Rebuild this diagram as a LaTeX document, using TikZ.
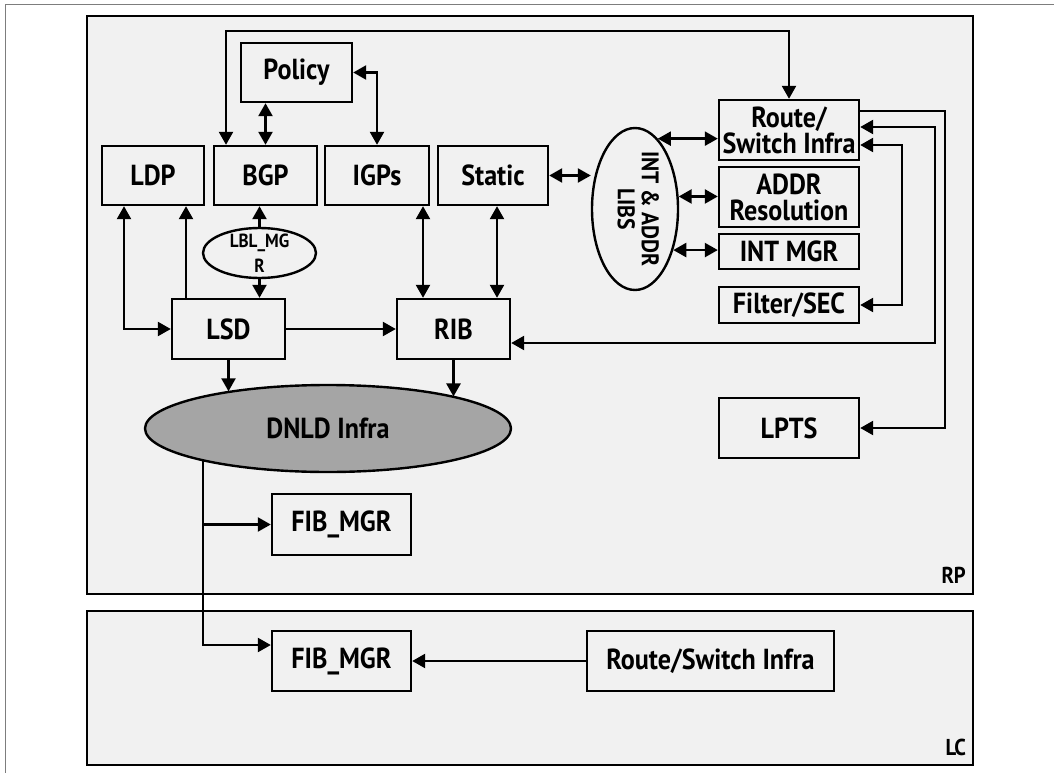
\documentclass[tikz,border=0pt]{standalone}
\usepackage{fontspec}
\setmainfont{PT Sans}[FakeStretch=0.9]
\usepackage{graphicx}
\usetikzlibrary{arrows.meta,shapes.geometric}
\definecolor{bgc}{RGB}{241,241,241}
\definecolor{dnldc}{RGB}{165,165,165}
\definecolor{framec}{RGB}{125,125,125}
\newcommand\mf{\fontsize{29}{26}\selectfont\bfseries}
\newcommand\lmf{\fontsize{24}{23}\selectfont\bfseries}
\newcommand\smf{\fontsize{19}{25}\selectfont\bfseries}
\begin{document}
\begin{tikzpicture}[x=1pt,y=-1pt,
  panel/.style={draw, line width=2.8pt, fill=bgc, inner sep=0pt},
  box/.style={draw, line width=2.4pt, fill=bgc, inner sep=0pt, align=center, font=\mf},
  ell/.style={draw, ellipse, line width=2.4pt, fill=bgc, align=center, font=\mf},
  ar/.style={-{Triangle[length=13pt,width=14pt]}, line width=2.4pt},
  dar/.style={{Triangle[length=13pt,width=14pt]}-{Triangle[length=13pt,width=14pt]}, line width=2.4pt},
  lab/.style={font=\fontsize{23}{23}\selectfont\bfseries, inner sep=0pt, anchor=base east}]
\useasboundingbox (0,0) rectangle (1054,773);
\fill[white] (0,0) rectangle (1054,773);
\draw[framec, line width=1.3pt] (5.5,773) -- (5.5,4.5) -- (1054,4.5);
% panels
\node[panel, minimum width=886pt, minimum height=578pt] (rp) at (530,305) {};
\node[panel, minimum width=886pt, minimum height=154pt] (lc) at (530,688) {};
\node[lab] (rplab) at (966,583) {RP};
\node[lab] (lclab) at (966,755) {LC};
% boxes
\node[box, minimum width=111pt, minimum height=59pt] (policy) at (296.5,72.5) {Policy};
\node[box, minimum width=102pt, minimum height=59pt] (ldp) at (153,175.5) {LDP};
\node[box, minimum width=103pt, minimum height=59pt] (bgp) at (265.5,175.5) {BGP};
\node[box, minimum width=104pt, minimum height=59pt] (igps) at (377,175.5) {IGPs};
\node[box, minimum width=110pt, minimum height=59pt] (static) at (493,175.5) {Static};
\node[box, minimum width=140pt, minimum height=60pt] (rs) at (789,130) {Route/\\Switch Infra};
\node[box, minimum width=140pt, minimum height=60pt] (addr) at (789,197) {ADDR\\Resolution};
\node[box, minimum width=140pt, minimum height=35pt] (intmgr) at (789,251.5) {INT MGR};
\node[box, minimum width=140pt, minimum height=36pt] (filter) at (789,305) {Filter/SEC};
\node[box, minimum width=140pt, minimum height=60pt] (lpts) at (789,428) {LPTS};
\node[box, minimum width=113pt, minimum height=60pt] (lsd) at (228.5,329) {LSD};
\node[box, minimum width=113pt, minimum height=60pt] (rib) at (453.5,329) {RIB};
\node[box, minimum width=139pt, minimum height=61pt] (fibrp) at (341.5,524.5) {FIB\_MGR};
\node[box, minimum width=139pt, minimum height=60pt] (fiblc) at (341.5,661) {FIB\_MGR};
\node[box, minimum width=247pt, minimum height=60pt] (rslc) at (710.5,661) {Route/Switch Infra};
% ellipses
\node[ell, inner xsep=-6pt, inner ysep=-20pt, minimum width=86pt, minimum height=162pt, font=\lmf] (libs) at (635,209)
  {\rotatebox{-90}{\begin{tabular}{@{}c@{}}INT \& ADDR\\LIBS\end{tabular}}};
\node[ell, inner sep=-7pt, minimum width=113pt, minimum height=50pt, font=\smf] (lbl) at (259.5,253) {LBL\_MG\\R};
\node[ell, fill=dnldc, inner sep=0pt, minimum width=366pt, minimum height=87pt, font=\fontsize{29}{29}\selectfont\bfseries] (dnld) at (328,428.5) {DNLD Infra};
% helper x positions
\coordinate (xa) at (226,0);
\coordinate (xb) at (124,0);
\coordinate (xc) at (186,0);
\coordinate (xd) at (423,0);
\coordinate (xe) at (497,0);
\coordinate (xf) at (203,0);
\coordinate (xg) at (945,0);
\coordinate (xh) at (935,0);
\coordinate (xi) at (902,0);
\coordinate (ytop) at (0,31);
\coordinate (rsa) at ([yshift=19pt]rs.east);
\coordinate (rsb) at ([yshift=3pt]rs.east);
\coordinate (rsc) at ([yshift=-15pt]rs.east);
\coordinate (ribr) at ([yshift=-14pt]rib.east);
\coordinate (fiblcin) at ([yshift=16pt]fiblc.west);
% connectors
\draw[dar] (bgp.north -| xa) -- (ytop -| xa) -| (rs.north);
\draw[dar] (policy.south -| bgp.north) -- (bgp.north);
\draw[dar] (policy.east) -| (igps.north);
\draw[dar] (ldp.south -| xb) |- (lsd.west);
\draw[ar] (lsd.north -| xc) -- (ldp.south -| xc);
\draw[ar] (lbl.north) -- (lbl.north |- bgp.south);
\draw[ar] (lbl.south) -- (lbl.south |- lsd.north);
\draw[dar] (igps.south -| xd) -- (rib.north -| xd);
\draw[dar] (static.south -| xe) -- (rib.north -| xe);
\draw[ar] (lsd.east) -- (rib.west);
\draw[ar] (lsd.south) -- (lsd.south |- dnld.160);
\draw[ar] (rib.south) -- (rib.south |- dnld.14);
\draw[dar] (static.east) -- (static.east -| libs.west);
\draw[dar] (libs.72) -- (libs.72 -| rs.west);
\draw[dar] (libs.16) -- (libs.16 -| addr.west);
\draw[dar] (libs.-47) -- (libs.-47 -| intmgr.west);
\draw[ar] (rsa) -| (lpts.east -| xg) -- (lpts.east);
\draw[dar] (ribr) -| (rsb -| xh) -- (rsb);
\draw[dar] (rsc) -| (filter.east -| xi) -- (filter.east);
\draw[ar] (dnld.194 -| xf) |- (fiblcin);
\draw[ar] (fibrp.west -| xf) -- (fibrp.west);
\draw[ar] (rslc.west) -- (fiblc.east);
\end{tikzpicture}
\end{document}
